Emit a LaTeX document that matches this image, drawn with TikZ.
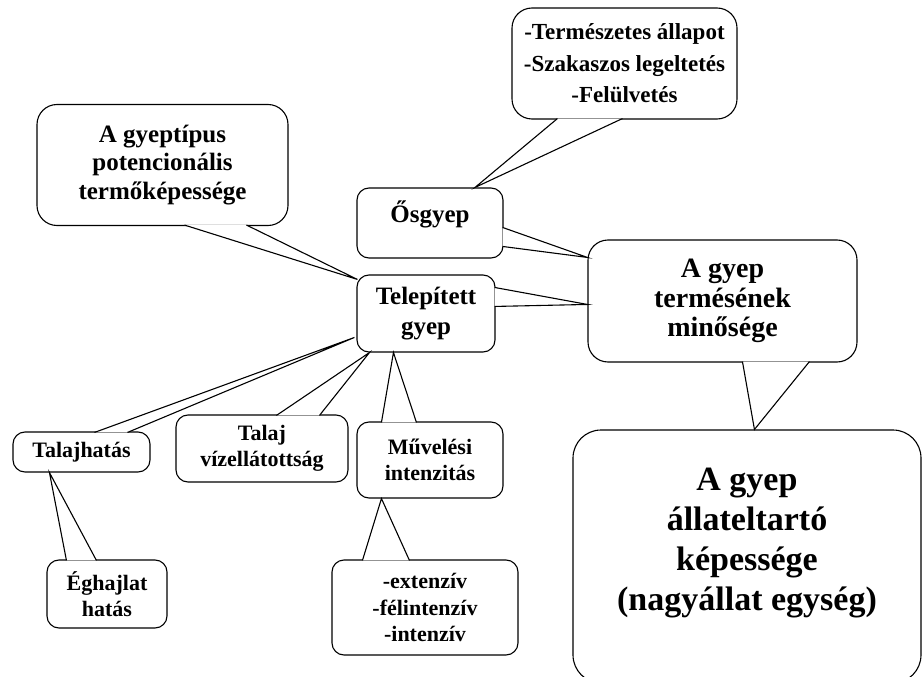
\documentclass[tikz,border=0pt]{standalone}
\usepackage{fontspec}
\setmainfont{Liberation Serif}
\usetikzlibrary{calc}

\tikzset{
  bubble/.style={draw, line width=1.1pt, rounded corners=12pt, fill=white,
    align=center, inner sep=0pt, font=\bfseries},
  wedge/.style={draw, line width=1.1pt, fill=white, line join=miter},
}

\begin{document}
\begin{tikzpicture}[x=1pt, y=-1pt]
  \useasboundingbox[fill=white] (0,0) rectangle (922,677);
  \clip (0,0) rectangle (922,677);
  % boxes
  \node[bubble, rounded corners=20pt, minimum width=251pt, minimum height=121pt,
        font=\bfseries\fontsize{25}{28.5}\selectfont] (potencial) at (162.5,165)
        {A gyeptípus\\potencionális\\termőképessége};
  \node[bubble, rounded corners=20pt, minimum width=225pt, minimum height=111pt,
        font=\bfseries\fontsize{23}{31.5}\selectfont] (allapot) at (624.5,63.5)
        {-Természetes állapot\\-Szakaszos legeltetés\\-Felülvetés};
  \node[bubble, minimum width=146pt, minimum height=70pt, text depth=23pt,
        font=\bfseries\fontsize{25}{30}\selectfont] (osgyep) at (430,223) {Ősgyep};
  \node[bubble, minimum width=138pt, minimum height=77pt,
        font=\bfseries\fontsize{25}{30}\selectfont] (telepitett) at (426,313.5)
        {Telepített\\gyep};
  \node[bubble, rounded corners=20pt, minimum width=269pt, minimum height=122pt,
        font=\bfseries\fontsize{28}{29.5}\selectfont] (minoseg) at (722.5,301)
        {A gyep\\termésének\\minősége};
  \node[bubble, rounded corners=28pt, minimum width=348pt, minimum height=253pt,
        text depth=34pt, font=\bfseries\fontsize{34}{40}\selectfont] (eltartas) at (747,556.5)
        {A gyep\\állateltartó\\képessége\\(nagyállat egység)};
  \node[bubble, minimum width=137pt, minimum height=40pt,
        font=\bfseries\fontsize{22}{26.5}\selectfont] (talajhatas) at (81.5,452) {Talajhatás};
  \node[bubble, minimum width=172pt, minimum height=67pt,
        font=\bfseries\fontsize{22}{26.5}\selectfont] (vizellatas) at (262,448.5)
        {Talaj\\vízellátottság};
  \node[bubble, minimum width=146pt, minimum height=76pt,
        font=\bfseries\fontsize{22}{26.5}\selectfont] (muveles) at (430,460)
        {Művelési\\intenzitás};
  \node[bubble, minimum width=120pt, minimum height=68pt,
        font=\bfseries\fontsize{22}{26.5}\selectfont] (eghajlat) at (107,594)
        {Éghajlat\\hatás};
  \node[bubble, minimum width=186pt, minimum height=95pt,
        font=\bfseries\fontsize{22}{26.5}\selectfont] (intenzitas) at (425,607.5)
        {-extenzív\\-félintenzív\\-intenzív};
  % pointers
  \path[wedge] ($(potencial.south west)+(148,-1)$) -- ($(telepitett.north west)+(1,5)$)
    -- ($(potencial.south west)+(210,-1)$);
  \path[wedge] ($(allapot.south west)+(46,-1)$) -- ($(osgyep.north)+(45,0)$)
    -- ($(allapot.south west)+(111,-1)$);
  \path[wedge] ($(osgyep.north east)+(-1,40)$) -- ($(minoseg.north west)+(0,18)$)
    -- ($(osgyep.north east)+(-1,59)$);
  \path[wedge] ($(telepitett.north east)+(-1,13)$) -- ($(minoseg.north west)+(0,65)$)
    -- ($(telepitett.north east)+(-1,32)$);
  \path[wedge] ($(minoseg.south west)+(155,-1)$) -- ($(eltartas.north west)+(182,0)$)
    -- ($(minoseg.south west)+(222,-1)$);
  \path[wedge] ($(talajhatas.north west)+(82,1)$) -- ($(telepitett.north west)+(-2,63)$)
    -- ($(talajhatas.north west)+(115,1)$);
  \path[wedge] ($(vizellatas.north west)+(101,1)$) -- ($(telepitett.south west)+(13,0)$)
    -- ($(vizellatas.north west)+(144,1)$);
  \path[wedge] ($(muveles.north west)+(25,1)$) -- ($(telepitett.south west)+(37,0)$)
    -- ($(muveles.north west)+(60,1)$);
  \path[wedge] ($(eghajlat.north west)+(20,1)$) -- ($(talajhatas.south west)+(37,0)$)
    -- ($(eghajlat.north west)+(50,1)$);
  \path[wedge] ($(intenzitas.north west)+(31,1)$) -- ($(muveles.south west)+(25,0)$)
    -- ($(intenzitas.north west)+(78,1)$);
\end{tikzpicture}
\end{document}
